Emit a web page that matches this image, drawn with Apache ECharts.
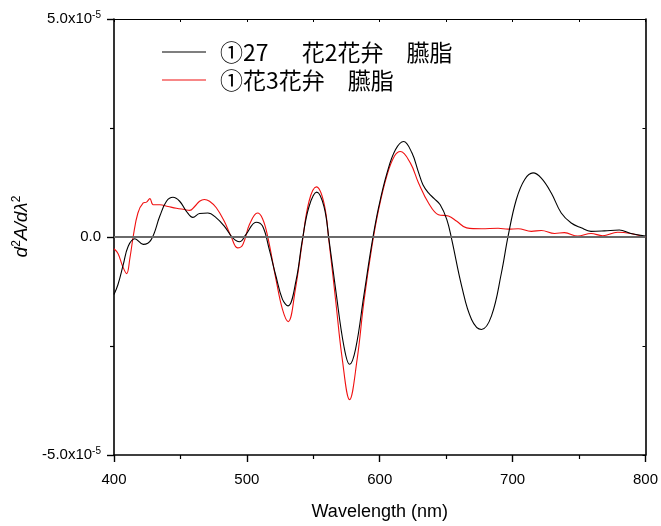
<!DOCTYPE html>
<html>
<head>
<meta charset="utf-8">
<script src="https://cdn.jsdelivr.net/npm/echarts@6/dist/echarts.min.js"></script>
<style>
html,body{margin:0;padding:0;background:#fff;}
#chart{width:661px;height:526px;}
</style>
</head>
<body>
<div id="chart"></div>
<script>
var seriesNames = ['①27\u3000  花2花弁\u3000臙脂', '①花3花弁\u3000臙脂'];
var xTicks = [400, 500, 600, 700, 800];

var blackX = [400,403,407,410.7,415.7,422,428,434.5,439.5,444.4,449.4,454.5,459.4,464.4,470.6,477,483,489.4,494.4,499.4,506.9,511.8,516.9,521.9,526.8,531,537,541.8,546.8,552.6,558,561.8,566.8,573,577.3,581.8,588,594.2,599.3,605.5,611.8,618,624.2,629,632.5,636.7,641,645.5,650.5,654.2,661.7,669.1,676.6,684.1,691.6,696.6,702.8,709.1,715.4,721.6,729.1,736.6,744.1,751.6,759,769,780.3,789,800];
var blackY = [-1.32e-5,-1.09e-5,-0.63e-5,-0.21e-5,-0.04e-5,-0.17e-5,-0.06e-5,0.48e-5,0.82e-5,0.91e-5,0.82e-5,0.59e-5,0.45e-5,0.54e-5,0.55e-5,0.44e-5,0.25e-5,-0.02e-5,-0.11e-5,0.06e-5,0.34e-5,0.25e-5,-0.29e-5,-0.90e-5,-1.43e-5,-1.58e-5,-1.0e-5,-0.06e-5,0.70e-5,1.03e-5,0.70e-5,-0.06e-5,-1.20e-5,-2.50e-5,-2.92e-5,-2.57e-5,-1.35e-5,-0.13e-5,0.70e-5,1.47e-5,2.0e-5,2.19e-5,1.93e-5,1.5e-5,1.2e-5,1.01e-5,0.88e-5,0.74e-5,0.40e-5,-0.06e-5,-1.13e-5,-1.89e-5,-2.12e-5,-1.81e-5,-0.82e-5,0.02e-5,0.86e-5,1.32e-5,1.47e-5,1.35e-5,1.01e-5,0.55e-5,0.32e-5,0.21e-5,0.13e-5,0.14e-5,0.16e-5,0.08e-5,0.02e-5];

var redX = [400,403,406.5,409.5,412,414.5,418,422,424.5,427,429.5,434.5,440.7,447,453,457,460.7,464.4,468,471.9,477,483,488,493,497,502,508,511.8,515.6,521.9,526.8,531.1,536.5,541.8,546.8,552.3,558,561.8,566.8,571.8,577.3,583,588,594.2,599.3,605.5,611,615.5,623,629.2,636.7,644.2,651.7,658,665.4,676.6,689.1,696.6,704.1,714.1,721.6,731.6,739,749,759,767.8,779,789,800];
var redY = [-0.27e-5,-0.38e-5,-0.67e-5,-0.84e-5,-0.48e-5,0.02e-5,0.55e-5,0.78e-5,0.80e-5,0.88e-5,0.74e-5,0.74e-5,0.70e-5,0.66e-5,0.63e-5,0.61e-5,0.70e-5,0.82e-5,0.86e-5,0.82e-5,0.67e-5,0.36e-5,0.02e-5,-0.25e-5,-0.17e-5,0.29e-5,0.55e-5,0.42e-5,0.02e-5,-0.97e-5,-1.66e-5,-1.94e-5,-1.2e-5,-0.1e-5,0.82e-5,1.15e-5,0.78e-5,-0.1e-5,-1.45e-5,-2.80e-5,-3.73e-5,-2.80e-5,-1.5e-5,-0.2e-5,0.65e-5,1.42e-5,1.85e-5,1.96e-5,1.70e-5,1.24e-5,0.78e-5,0.51e-5,0.48e-5,0.36e-5,0.21e-5,0.19e-5,0.20e-5,0.18e-5,0.19e-5,0.13e-5,0.15e-5,0.08e-5,0.10e-5,0.02e-5,0.08e-5,0.03e-5,0.11e-5,0.08e-5,0.0];

function pairs(xs, ys){ var out=[]; for (var i=0;i<xs.length;i++) out.push([xs[i], ys[i]]); return out; }

var labelFont = 'Liberation Sans, Arial, sans-serif';
var chart = echarts.init(document.getElementById('chart'), null, {renderer:'canvas'});

var commonAxisLine = {show:true, onZero:false, lineStyle:{color:'#000', width:1.6}};
var legendText = {fontFamily:'Noto Sans CJK JP', fontSize:23, color:'#000', lineHeight:26, padding:[0,0,0,9]};

chart.setOption({
  animation:false,
  backgroundColor:'#fff',
  grid:{left:114, right:13, top:19, bottom:70, containLabel:false},
  legend:[{
    show:true, orient:'vertical', left:157, top:34,
    icon:'rect', itemWidth:44, itemHeight:1.2, itemGap:0,
    data:[seriesNames[0]], textStyle:legendText
  },{
    show:true, orient:'vertical', left:157, top:62,
    icon:'rect', itemWidth:44, itemHeight:1.2, itemGap:0,
    data:[seriesNames[1]], textStyle:legendText
  }],
  xAxis:[{
    type:'value', min:400, max:800, interval:100, position:'bottom',
    axisLine:commonAxisLine,
    axisTick:{show:true, length:7, lineStyle:{color:'#000', width:1.4}},
    minorTick:{show:true, splitNumber:2, length:4, lineStyle:{color:'#000', width:1.2}},
    splitLine:{show:false},
    axisLabel:{fontSize:15, color:'#000', fontFamily:labelFont, margin:17},
    name:'Wavelength (nm)', nameLocation:'middle', nameGap:48,
    nameTextStyle:{fontSize:18, color:'#000', fontFamily:labelFont}
  },{
    type:'value', min:400, max:800, interval:100, position:'top',
    axisLine:{show:true, onZero:false, lineStyle:{color:'#000', width:1.2}},
    axisTick:{show:true, inside:true, length:3, lineStyle:{color:'#000'}},
    minorTick:{show:true, splitNumber:2, length:3, lineStyle:{color:'#000'}},
    splitLine:{show:false}, axisLabel:{show:false}
  }],
  yAxis:[{
    type:'value', min:-5e-5, max:5e-5, interval:5e-5, position:'left',
    axisLine:commonAxisLine,
    axisTick:{show:true, length:7, lineStyle:{color:'#000', width:1.4}},
    minorTick:{show:true, splitNumber:2, length:4, lineStyle:{color:'#000', width:1.2}},
    splitLine:{show:false},
    axisLabel:{
      margin:13, color:'#000', fontFamily:labelFont, fontSize:15,
      formatter:function(v){
        if (Math.abs(v) < 1e-12) return '{n|0.0}';
        if (Math.abs(v - 5e-5) < 1e-12) return '{n|5.0x10}{s|-5}';
        if (Math.abs(v + 5e-5) < 1e-12) return '{n|-5.0x10}{s|-5}';
        return '';
      },
      rich:{
        n:{fontSize:15, color:'#000', fontFamily:labelFont, lineHeight:18},
        s:{fontSize:10, color:'#000', fontFamily:labelFont, verticalAlign:'top', lineHeight:10, padding:[0,0,8,0]}
      }
    },
    name:'{i|d}{s|2}{i|A/d}{i|λ}{s|2}', nameLocation:'middle', nameGap:79, nameRotate:90,
    nameTextStyle:{
      padding:[0,0,0,21],
      rich:{
        i:{fontSize:19, fontStyle:'italic', color:'#000', fontFamily:labelFont, lineHeight:22},
        s:{fontSize:12, color:'#000', fontFamily:labelFont, verticalAlign:'top', lineHeight:12, padding:[0,0,8,0]}
      }
    }
  },{
    type:'value', min:-5e-5, max:5e-5, interval:5e-5, position:'right',
    axisLine:{show:true, onZero:false, lineStyle:{color:'#000', width:1.6}},
    axisTick:{show:true, inside:true, length:3, lineStyle:{color:'#000'}},
    minorTick:{show:true, splitNumber:2, length:3, lineStyle:{color:'#000'}},
    splitLine:{show:false}, axisLabel:{show:false}
  }],
  series:[{
    name:seriesNames[0], type:'line', xAxisIndex:0, yAxisIndex:0,
    data:pairs(blackX, blackY), smooth:0.4, symbol:'none', showSymbol:false,
    lineStyle:{color:'#000', width:1.1}, itemStyle:{color:'#000'},
    markLine:{
      silent:true, symbol:['none','none'], label:{show:false},
      lineStyle:{color:'#6a6a6a', width:2, type:'solid'},
      data:[{yAxis:0}]
    },
    z:3
  },{
    name:seriesNames[1], type:'line', xAxisIndex:0, yAxisIndex:0,
    data:pairs(redX, redY), smooth:0.4, symbol:'none', showSymbol:false,
    lineStyle:{color:'#f01010', width:1.1}, itemStyle:{color:'#f01010'},
    z:2
  }]
});
</script>
</body>
</html>
